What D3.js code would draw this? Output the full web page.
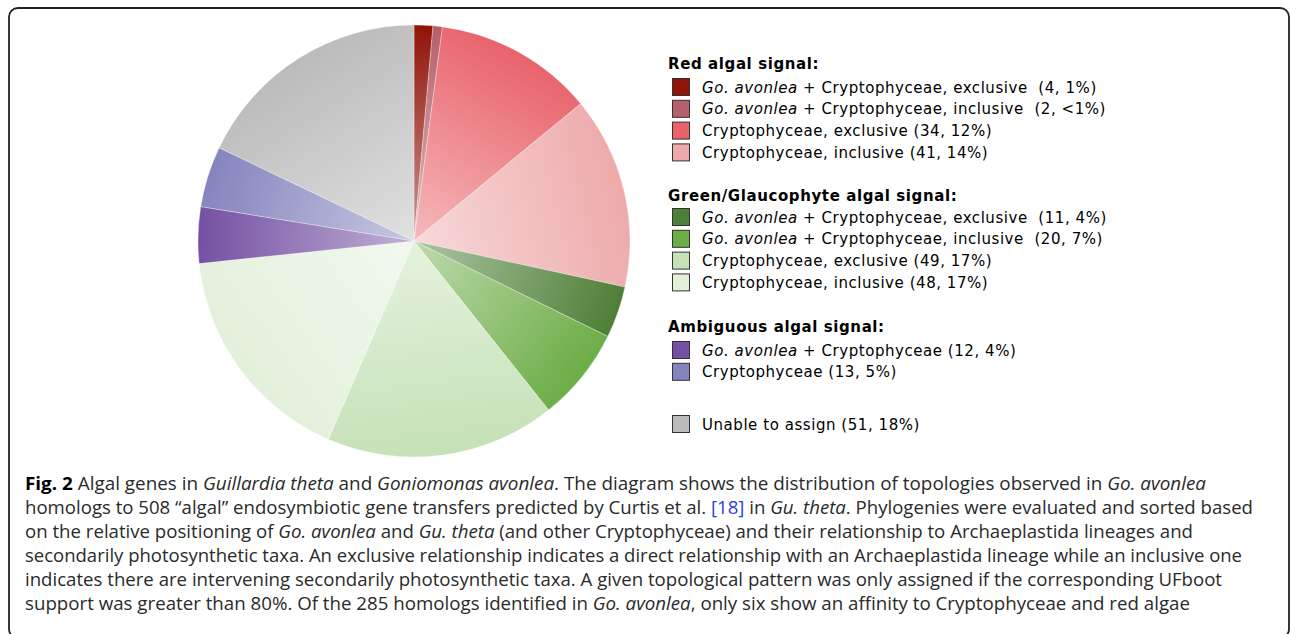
<!DOCTYPE html>
<html>
<head>
<meta charset="utf-8">
<script src="https://cdn.jsdelivr.net/npm/d3@7"></script>
<style>
  html, body { margin: 0; padding: 0; background: #fff; }
  svg { display: block; }
</style>
</head>
<body>
<svg id="chart" width="1290" height="634"></svg>
<script>
// ---------- DATA ----------
const categories = [
  "Red: Go. avonlea + Cryptophyceae, exclusive",
  "Red: Go. avonlea + Cryptophyceae, inclusive",
  "Red: Cryptophyceae, exclusive",
  "Red: Cryptophyceae, inclusive",
  "Green: Go. avonlea + Cryptophyceae, exclusive",
  "Green: Go. avonlea + Cryptophyceae, inclusive",
  "Green: Cryptophyceae, exclusive",
  "Green: Cryptophyceae, inclusive",
  "Ambiguous: Go. avonlea + Cryptophyceae",
  "Ambiguous: Cryptophyceae",
  "Unable to assign"
];
const counts = [4, 2, 34, 41, 11, 20, 49, 48, 12, 13, 51];
const colors = ["#901408", "#b5606a", "#e8636a", "#eeaaab", "#4e7f36", "#6cad46",
                "#c6e1b6", "#e3f0db", "#7450a2", "#8584be", "#bbbbbb"];
const legendItalic = ["Go. avonlea", "Go. avonlea", "", "", "Go. avonlea", "Go. avonlea", "", "", "Go. avonlea", "", ""];
const legendText = [
  " + Cryptophyceae, exclusive\u00a0\u00a0(4, 1%)",
  " + Cryptophyceae, inclusive\u00a0\u00a0(2, <1%)",
  "Cryptophyceae, exclusive (34, 12%)",
  "Cryptophyceae, inclusive (41, 14%)",
  " + Cryptophyceae, exclusive\u00a0\u00a0(11, 4%)",
  " + Cryptophyceae, inclusive\u00a0\u00a0(20, 7%)",
  "Cryptophyceae, exclusive (49, 17%)",
  "Cryptophyceae, inclusive (48, 17%)",
  " + Cryptophyceae (12, 4%)",
  "Cryptophyceae (13, 5%)",
  "Unable to assign (51, 18%)"
];
const groupTitles = ["Red algal signal:", "Green/Glaucophyte algal signal:", "Ambiguous algal signal:", ""];
const groupMembers = [[0, 1, 2, 3], [4, 5, 6, 7], [8, 9], [10]];

// caption: each line is a list of [text, style] (style: n normal, b bold, i italic, l link)
const captionLines = [
  [["Fig. 2", "b"], [" Algal genes in ", "n"], ["Guillardia theta", "i"], [" and ", "n"], ["Goniomonas avonlea", "i"], [". The diagram shows the distribution of topologies observed in ", "n"], ["Go. avonlea", "i"]],
  [["homologs to 508 \u201calgal\u201d endosymbiotic gene transfers predicted by Curtis et al. ", "n"], ["[18]", "l"], [" in ", "n"], ["Gu. theta", "i"], [". Phylogenies were evaluated and sorted based", "n"]],
  [["on the relative positioning of ", "n"], ["Go. avonlea", "i"], [" and ", "n"], ["Gu. theta", "i"], [" (and other Cryptophyceae) and their relationship to Archaeplastida lineages and", "n"]],
  [["secondarily photosynthetic taxa. An exclusive relationship indicates a direct relationship with an Archaeplastida lineage while an inclusive one", "n"]],
  [["indicates there are intervening secondarily photosynthetic taxa. A given topological pattern was only assigned if the corresponding UFboot", "n"]],
  [["support was greater than 80%. Of the 285 homologs identified in ", "n"], ["Go. avonlea", "i"], [", only six show an affinity to Cryptophyceae and red algae", "n"]]
];
const captionEnds = [1206, 1253, 1193, 1242, 1222, 1190];

// ---------- LAYOUT ----------
const svg = d3.select("#chart");

// frame
svg.append("rect")
  .attr("x", 9).attr("y", 8).attr("width", 1280).attr("height", 630)
  .attr("rx", 9).attr("ry", 9)
  .attr("fill", "none").attr("stroke", "#222").attr("stroke-width", 1.8);

// pie
const cx = 414, cy = 241, R = 216;
const pie = d3.pie().sort(null).value(d => d)(counts);
const arc = d3.arc().innerRadius(0).outerRadius(R);
const defs = svg.append("defs");
const g = svg.append("g").attr("transform", `translate(${cx},${cy})`);

pie.forEach((p, i) => {
  const mid = (p.startAngle + p.endAngle) / 2;
  const gx = Math.sin(mid) * R, gy = -Math.cos(mid) * R;
  const grad = defs.append("linearGradient")
    .attr("id", "grad" + i)
    .attr("gradientUnits", "userSpaceOnUse")
    .attr("x1", 0).attr("y1", 0).attr("x2", gx).attr("y2", gy);
  grad.append("stop").attr("offset", 0).attr("stop-color", d3.interpolateRgb(colors[i], "#fff")(0.55));
  grad.append("stop").attr("offset", 1).attr("stop-color", colors[i]);
});

g.selectAll("path.slice")
  .data(pie)
  .join("path")
  .attr("class", "slice")
  .attr("d", arc)
  .attr("fill", (d, i) => `url(#grad${i})`)
  .attr("stroke", "rgba(255,255,255,0.5)")
  .attr("stroke-width", 0.6);

// legend
const legendFont = "'DejaVu Sans', Verdana, sans-serif";
const titleY = [63, 195, 326, null];
const rowStartY = [87, 217, 350, 424];
const rowH = 21.8;
const lg = svg.append("g");
groupTitles.forEach((t, gi) => {
  if (t) {
    lg.append("text")
      .attr("x", 668).attr("y", titleY[gi] + 5.5)
      .attr("font-family", legendFont).attr("font-weight", "bold")
      .attr("font-size", 15).attr("letter-spacing", 0.6).attr("fill", "#000")
      .text(t);
  }
  groupMembers[gi].forEach((idx, k) => {
    const y = rowStartY[gi] + k * rowH;
    lg.append("rect")
      .attr("x", 672.5).attr("y", y - 8.5).attr("width", 17).attr("height", 17)
      .attr("fill", colors[idx]).attr("stroke", "#333").attr("stroke-width", 1);
    const tx = lg.append("text")
      .attr("x", 702).attr("y", y + 5.5)
      .attr("font-family", legendFont).attr("font-size", 15)
      .attr("letter-spacing", 0.55).attr("fill", "#000");
    if (legendItalic[idx]) tx.append("tspan").attr("font-style", "italic").text(legendItalic[idx]);
    tx.append("tspan").text(legendText[idx]);
  });
});

// caption
const capFont = "'Open Sans', 'Noto Sans', sans-serif";
const cg = svg.append("g");
captionLines.forEach((segs, li) => {
  const t = cg.append("text")
    .attr("x", 25).attr("y", 490 + li * 24)
    .attr("font-family", capFont).attr("font-size", 17.5).attr("fill", "#2a2a2a")
    .attr("textLength", captionEnds[li] - 25)
    .attr("lengthAdjust", "spacingAndGlyphs");
  segs.forEach(([txt, st]) => {
    const ts = t.append("tspan").text(txt);
    if (st === "b") ts.attr("font-weight", "bold").attr("fill", "#000");
    if (st === "i") ts.attr("font-style", "italic");
    if (st === "l") ts.attr("fill", "#2b3fd6");
  });
});
</script>
</body>
</html>
